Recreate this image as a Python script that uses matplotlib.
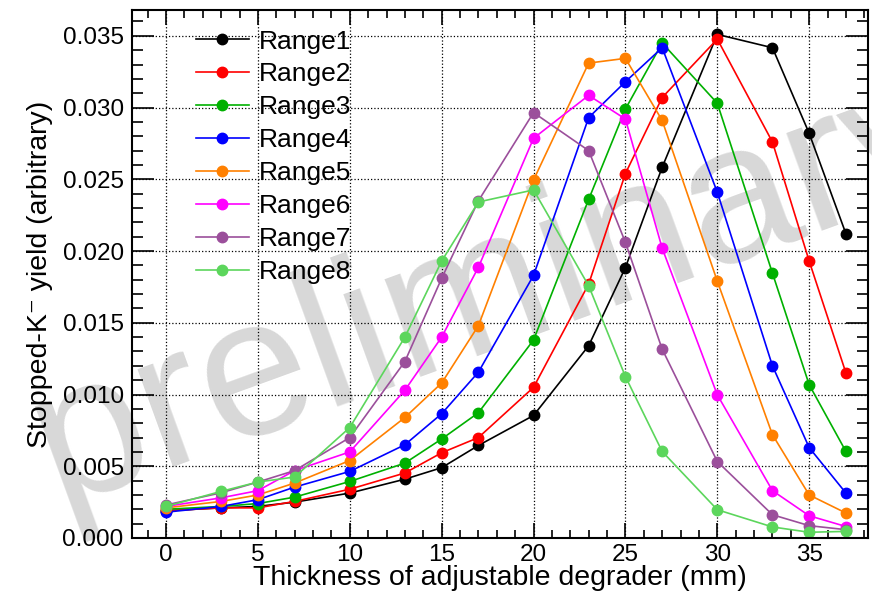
import matplotlib as mpl
import matplotlib.pyplot as plt
from matplotlib.ticker import MultipleLocator

mpl.rcParams['font.family'] = ['Liberation Sans', 'DejaVu Sans']

# Degrader thickness (mm)
thickness = [0, 3, 5, 7, 10, 13, 15, 17, 20, 23, 25, 27, 30, 33, 35, 37]

# Stopped-K- yield for each momentum range
range1 = [0.0019, 0.0021, 0.0022, 0.0025, 0.00313, 0.0041, 0.0049, 0.00645,
          0.00854, 0.0134, 0.01885, 0.02584, 0.0351, 0.03417, 0.0282, 0.0212]
range2 = [0.0019, 0.0021, 0.0021, 0.00255, 0.0034, 0.00453, 0.00594, 0.0070,
          0.0105, 0.0177, 0.0254, 0.0307, 0.03477, 0.0276, 0.0193, 0.0115]
range3 = [0.0020, 0.0022, 0.0024, 0.00285, 0.00394, 0.00522, 0.0069, 0.00873,
          0.0138, 0.0236, 0.0299, 0.0345, 0.0303, 0.01846, 0.01068, 0.00603]
range4 = [0.0018, 0.0022, 0.00267, 0.00355, 0.00464, 0.0065, 0.00866, 0.01156,
          0.0183, 0.0293, 0.0318, 0.03417, 0.0241, 0.0120, 0.0063, 0.00313]
range5 = [0.0021, 0.00255, 0.0030, 0.00383, 0.0054, 0.0084, 0.0108, 0.0148,
          0.02495, 0.0331, 0.03343, 0.0291, 0.0179, 0.0072, 0.0030, 0.00174]
range6 = [0.0022, 0.0028, 0.0033, 0.0047, 0.0060, 0.0103, 0.0140, 0.01887,
          0.02786, 0.03085, 0.0292, 0.0202, 0.00998, 0.0033, 0.00155, 0.0008]
range7 = [0.0023, 0.00315, 0.0039, 0.0047, 0.0070, 0.0123, 0.0181, 0.0235,
          0.02965, 0.0270, 0.0206, 0.01316, 0.00533, 0.00162, 0.00086, 0.00058]
range8 = [0.0022, 0.00325, 0.0039, 0.00425, 0.0077, 0.0140, 0.0193, 0.02342,
          0.02426, 0.01758, 0.01125, 0.00603, 0.00197, 0.00077, 0.0004, 0.00046]

series = [range1, range2, range3, range4, range5, range6, range7, range8]
labels = ['Range1', 'Range2', 'Range3', 'Range4',
          'Range5', 'Range6', 'Range7', 'Range8']
colors = ['#000000', '#ff0000', '#00b000', '#0000ff',
          '#ff8000', '#ff00ff', '#9b4f9b', '#5cd65c']

fig = plt.figure(figsize=(8.72, 5.94), dpi=100)
ax = fig.add_axes([132/872, 1 - 538/594, (868 - 132)/872, (538 - 10)/594])
ax.patch.set_alpha(0)

# watermark, behind everything
fig.text(0.066, 0.15, 'preliminary', fontsize=142, color='#d8d8d8',
         rotation=20, rotation_mode='anchor', ha='left', va='baseline', zorder=-1)

for y, c, lab in zip(series, colors, labels):
    ax.plot(thickness, y, '-o', color=c, lw=1.2, ms=7.5, label=lab)

ax.set_xlim(-1.85, 38.2)
ax.set_ylim(0, 0.0368)
ax.xaxis.set_major_locator(MultipleLocator(5))
ax.xaxis.set_minor_locator(MultipleLocator(1))
ax.yaxis.set_major_locator(MultipleLocator(0.005))
ax.yaxis.set_minor_locator(MultipleLocator(0.001))
ax.yaxis.set_major_formatter(mpl.ticker.FormatStrFormatter('%.3f'))
ax.tick_params(which='both', direction='in', top=True, right=True, width=1.2)
ax.tick_params(which='major', labelsize=17.5)
ax.tick_params(axis='x', which='major', length=11, pad=4)
ax.tick_params(axis='x', which='minor', length=5.5)
ax.tick_params(axis='y', which='major', length=16, pad=6)
ax.tick_params(axis='y', which='minor', length=8)
for s in ax.spines.values():
    s.set_linewidth(1.5)
ax.grid(True, which='major', ls=':', color='black', lw=0.9)

ax.set_xlabel('Thickness of adjustable degrader (mm)', fontsize=20.5)
ax.xaxis.set_label_coords(0.5, -0.052)
ax.set_ylabel('Stopped-K\u207b yield (arbitrary)', fontsize=20.5, labelpad=7)

ax.legend(loc='upper left', bbox_to_anchor=(0.058, 1.003), frameon=False,
          fontsize=19, handlelength=2.0, handletextpad=0.4,
          labelspacing=0.34, borderpad=0.3)

fig.savefig('out.png', dpi=100)
